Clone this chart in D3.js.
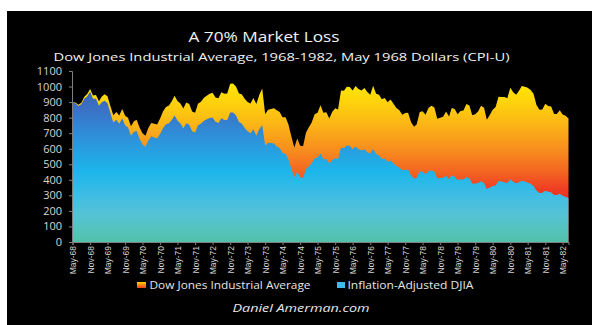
<!DOCTYPE html>
<html><head><meta charset="utf-8">
<script src="https://cdn.jsdelivr.net/npm/d3@7"></script>
<style>html,body{margin:0;padding:0;background:#fff;} svg{display:block}</style>
</head><body>
<svg id="c" width="592" height="325"></svg>
<script>
// Monthly data, May 1968 .. Jul 1982
const firstYear = 1968, firstMonthIndex = 4; // May
const nominalDJIA = [
 899,897,883,896,935,952,985,943,
 946,905,935,950,937,873,815,837,813,856,812,800,
 744,777,786,736,700,683,734,765,760,756,794,839,
 869,878,904,941,907,891,858,898,887,839,831,890,
 902,928,941,954,960,929,925,964,953,956,1018,1020,
 999,955,951,921,901,891,926,888,947,987,822,851,
 856,861,847,837,802,802,757,679,608,666,619,616,
 704,739,768,821,832,879,832,835,794,836,860,852,
 975,973,999,997,975,1003,985,974,990,965,947,1005,
 954,948,919,927,899,916,890,862,847,818,830,831,
 770,742,757,837,841,819,862,876,866,793,799,805,
 839,808,862,855,822,842,846,888,878,815,822,839,
 876,863,786,817,851,868,935,933,932,925,993,964,
 947,975,1004,998,992,977,953,882,850,853,889,875,
 871,824,823,848,820,812,795
];
const realDJIA = [
 899,892,875,886,922,936,966,922,
 922,877,899,908,893,828,768,787,760,796,751,736,
 683,710,714,663,629,611,653,681,673,666,696,731,
 758,764,784,814,781,762,731,764,754,712,705,751,
 762,780,789,798,801,773,766,796,785,784,833,833,
 814,772,762,733,712,699,725,683,727,751,621,639,
 637,633,615,605,573,568,532,471,417,452,417,412,
 469,488,506,539,543,569,533,534,505,528,540,533,
 608,605,620,617,599,613,599,589,596,578,567,599,
 566,557,536,536,517,524,506,489,479,461,465,464,
 428,409,414,455,452,436,455,461,452,410,411,413,
 426,406,429,420,399,404,402,418,408,376,376,380,
 391,380,341,350,361,364,392,389,385,379,403,388,
 378,385,394,389,383,374,361,332,316,317,329,323,
 320,302,302,310,297,290,283
];
const yTicks = [0,100,200,300,400,500,600,700,800,900,1000,1100];
const xTickLabels = ["May-68","Nov-68","May-69","Nov-69","May-70","Nov-70","May-71","Nov-71",
 "May-72","Nov-72","May-73","Nov-73","May-74","Nov-74","May-75","Nov-75","May-76","Nov-76",
 "May-77","Nov-77","May-78","Nov-78","May-79","Nov-79","May-80","Nov-80","May-81","Nov-81","May-82"];
const seriesNames = ["Dow Jones Industrial Average","Inflation-Adjusted DJIA"];
const titleText = "A 70% Market Loss";
const subtitleText = "Dow Jones Industrial Average, 1968-1982, May 1968 Dollars (CPI-U)";
const creditText = "Daniel Amerman.com";

const dates = nominalDJIA.map((_, i) => new Date(firstYear, firstMonthIndex + i, 1));
const data = dates.map((d, i) => ({date: d, nom: nominalDJIA[i], real: realDJIA[i]}));
const monthNames = ["Jan","Feb","Mar","Apr","May","Jun","Jul","Aug","Sep","Oct","Nov","Dec"];
const tickDates = xTickLabels.map(s => {
  const [m, yy] = s.split("-");
  return new Date(1900 + parseInt(yy, 10), monthNames.indexOf(m), 1);
});

const svg = d3.select("#c");
svg.append("rect").attr("x",7).attr("y",11).attr("width",585).attr("height",314).attr("fill","#000");

const x = d3.scaleTime().domain([dates[0], dates[dates.length-1]]).range([72.5, 568.5]);
const y = d3.scaleLinear().domain([0,1100]).range([242, 71]);

const defs = svg.append("defs");
function grad(id, stops){
  const g = defs.append("linearGradient").attr("id", id).attr("gradientUnits","userSpaceOnUse")
    .attr("x1",0).attr("x2",0).attr("y1",y(1100)).attr("y2",y(0));
  stops.forEach(s => g.append("stop").attr("offset", s[0]).attr("stop-color", s[1]));
}
grad("gNom", [[0.045,"#ffec00"],[0.18,"#fdd30c"],[0.32,"#fbb316"],[0.455,"#f88f1e"],[0.59,"#f46522"],[0.70,"#ee3a24"],[1,"#e61e1e"]]);
grad("gReal", [[0.09,"#3a5fb5"],[0.227,"#3b72c6"],[0.41,"#2c95dc"],[0.59,"#1cb6ea"],[0.727,"#3fbde4"],[0.836,"#55c3d6"],[0.945,"#55c3b8"],[1,"#52c1aa"]]);
const sw = defs.append("linearGradient").attr("id","gSw").attr("x1",0).attr("x2",0).attr("y1",0).attr("y2",1);
sw.append("stop").attr("offset",0).attr("stop-color","#ffd200");
sw.append("stop").attr("offset",1).attr("stop-color","#ee3a24");

const areaNom = d3.area().x(d => x(d.date)).y0(y(0)).y1(d => y(d.nom));
const areaReal = d3.area().x(d => x(d.date)).y0(y(0)).y1(d => y(d.real));
svg.append("path").datum(data).attr("d", areaNom).attr("fill","url(#gNom)");
svg.append("path").datum(data).attr("d", areaReal).attr("fill","url(#gReal)");

// Y axis
const yAxis = svg.append("g").attr("transform","translate(72,0)")
  .call(d3.axisLeft(y).tickValues(yTicks).tickSize(3).tickPadding(7).tickFormat(d3.format("d")));
yAxis.select(".domain").attr("stroke","#808080");
yAxis.selectAll(".tick line").attr("stroke","#808080");
yAxis.selectAll("text").attr("fill","#d6d6d6").style("font-family","'Open Sans', sans-serif").style("font-size","11px");

// X axis
const xAxis = svg.append("g").attr("transform","translate(0,242)")
  .call(d3.axisBottom(x).tickValues(tickDates).tickSize(3).tickFormat((d,i) => xTickLabels[i]));
xAxis.select(".domain").attr("stroke","#808080");
xAxis.selectAll(".tick line").attr("stroke","#808080");
xAxis.selectAll("text").attr("fill","#d6d6d6")
  .style("font-family","'Liberation Sans Narrow','Liberation Sans', sans-serif").style("font-size","8.5px")
  .attr("text-anchor","end").attr("transform","rotate(-90)").attr("x",-4).attr("y",0).attr("dy","0.35em");

// Titles
svg.append("text").attr("x",264).attr("y",42).attr("text-anchor","middle")
  .attr("fill","#f2f2f2").style("font-family","'Open Sans', sans-serif").style("font-size","15px")
  .attr("textLength",151).attr("lengthAdjust","spacingAndGlyphs").text(titleText);
svg.append("text").attr("x",281.5).attr("y",61).attr("text-anchor","middle")
  .attr("fill","#f2f2f2").style("font-family","'Open Sans', sans-serif").style("font-size","11.5px")
  .attr("textLength",456).attr("lengthAdjust","spacingAndGlyphs").text(subtitleText);

// Legend
const lg = svg.append("g");
lg.append("rect").attr("x",137).attr("y",282).attr("width",9).attr("height",6).attr("fill","url(#gSw)");
lg.append("text").attr("x",149.5).attr("y",288.5).attr("fill","#e6e6e6")
  .style("font-family","'Open Sans', sans-serif").style("font-size","10px")
  .attr("textLength",161).attr("lengthAdjust","spacingAndGlyphs").text(seriesNames[0]);
lg.append("rect").attr("x",337).attr("y",282).attr("width",8).attr("height",6).attr("fill","#3fb8ea");
lg.append("text").attr("x",347.5).attr("y",288.5).attr("fill","#e6e6e6")
  .style("font-family","'Open Sans', sans-serif").style("font-size","10px")
  .attr("textLength",126).attr("lengthAdjust","spacingAndGlyphs").text(seriesNames[1]);

// Credit
svg.append("text").attr("x",301).attr("y",312).attr("text-anchor","middle").attr("fill","#e6e6e6")
  .style("font-family","'Open Sans', sans-serif").style("font-size","10.5px").style("font-style","italic")
  .attr("textLength",137).attr("lengthAdjust","spacingAndGlyphs").text(creditText);
</script>
</body></html>
